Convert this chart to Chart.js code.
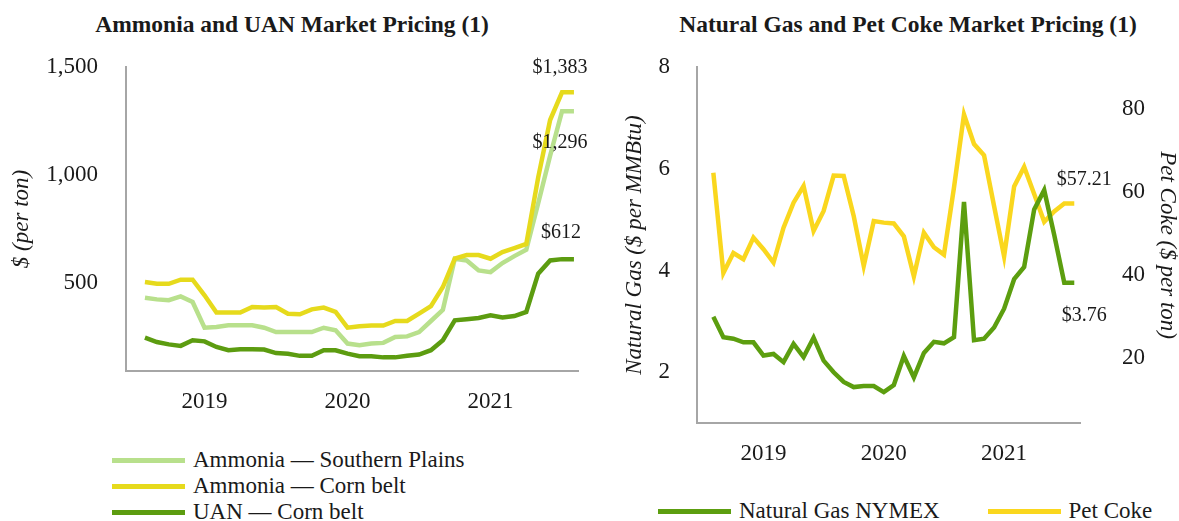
<!DOCTYPE html>
<html>
<head>
<meta charset="utf-8">
<script src="https://cdn.jsdelivr.net/npm/chart.js@4.4.1/dist/chart.umd.min.js"></script>
<style>
  body{margin:0;background:#fff;font-family:"Liberation Serif","Times New Roman",serif;color:#1a1a1a;}
  #wrap{position:relative;width:1179px;height:521px;overflow:hidden;}
  .title{position:absolute;top:11px;font-weight:bold;font-size:23.5px;text-align:center;white-space:nowrap;}
  .box{position:absolute;}
  .legend{position:absolute;font-size:23px;}
  .item{display:flex;align-items:center;height:26px;white-space:nowrap;}
  .swatch{display:inline-block;width:73px;height:5px;}
</style>
</head>
<body>
<div id="wrap">
  <div class="title" style="left:92px;width:400px">Ammonia and UAN Market Pricing (1)</div>
  <div class="title" style="left:678px;width:460px">Natural Gas and Pet Coke Market Pricing (1)</div>
  <div class="box" style="left:0;top:0;width:600px;height:430px"><canvas id="leftChart"></canvas></div>
  <div class="box" style="left:600px;top:0;width:579px;height:479px"><canvas id="rightChart"></canvas></div>
  <div class="legend" id="legLeft" style="left:112px;top:447px"></div>
  <div class="legend" id="legRight" style="left:658px;top:498px;display:flex"></div>
</div>
<script>
// monthly points, Aug 2018 - Aug 2021
const months = ['2018-08','2018-09','2018-10','2018-11','2018-12',
  '2019-01','2019-02','2019-03','2019-04','2019-05','2019-06','2019-07','2019-08','2019-09','2019-10','2019-11','2019-12',
  '2020-01','2020-02','2020-03','2020-04','2020-05','2020-06','2020-07','2020-08','2020-09','2020-10','2020-11','2020-12',
  '2021-01','2021-02','2021-03','2021-04','2021-05','2021-06','2021-07','2021-08'];

// $ per ton
const ammoniaSouthernPlains = [434,426,422,440,414,295,298,306,306,306,295,275,275,275,275,295,283,222,214,222,225,252,255,275,326,378,614,606,560,552,594,626,655,870,1090,1296,1296];
const ammoniaCornBelt = [506,498,498,517,517,445,365,365,365,391,388,391,360,357,380,388,368,295,302,305,305,326,326,360,395,483,614,631,631,614,645,663,682,990,1255,1383,1383];
const uanCornBelt = [249,229,218,211,237,232,206,191,195,195,194,178,175,165,165,191,191,175,163,163,158,158,165,171,191,237,329,334,340,352,342,349,368,545,606,612,612];

// $ per MMBtu and $ per ton
const naturalGas = [3.09,2.69,2.66,2.59,2.59,2.33,2.36,2.20,2.56,2.30,2.68,2.23,2.00,1.81,1.71,1.73,1.73,1.61,1.75,2.32,1.90,2.38,2.60,2.57,2.69,5.35,2.63,2.66,2.88,3.25,3.83,4.07,5.20,5.58,4.70,3.76,3.76];
const petCoke = [64.6,40.5,45.3,43.8,49.0,46.2,43.0,51.4,57.4,61.4,50.6,55.4,63.9,63.8,54.2,42.2,53.0,52.6,52.4,49.3,39.7,50.2,46.7,44.9,61.0,78.6,71.5,68.8,56.6,44.5,61.3,66.0,59.5,52.8,55.3,57.2,57.21];

const leftTicks = [500, 1000, 1500];
const gasTicks = [2, 4, 6, 8];
const cokeTicks = [20, 40, 60, 80];

const serif = '"Liberation Serif", "Times New Roman", serif';
const ink = '#1a1a1a';
const axisGray = '#a6a6a6';
const yearIdx = months.map((m, i) => m.endsWith('-01') ? i : -1).filter(i => i >= 0);
const pts = arr => arr.map((v, i) => ({x: i, y: v}));

const endLabels = {
  id: 'endLabels',
  afterDatasetsDraw(chart) {
    const ctx = chart.ctx;
    ctx.save();
    ctx.font = '20px ' + serif;
    ctx.fillStyle = ink;
    ctx.textAlign = 'center';
    ctx.textBaseline = 'middle';
    chart.data.datasets.forEach((ds, i) => {
      if (!ds.endLabel) return;
      const meta = chart.getDatasetMeta(i);
      const p = meta.data[meta.data.length - 1];
      const v = ds.data[ds.data.length - 1].y;
      ctx.fillText(ds.endLabel.fmt(v), p.x + ds.endLabel.dx, p.y + ds.endLabel.dy);
    });
    ctx.restore();
  }
};

function xAxis(min, max, h) {
  return {
    type: 'linear', min: min, max: max,
    grid: {display: false, drawTicks: false},
    border: {display: true, color: axisGray, width: 2},
    afterBuildTicks: s => { s.ticks = yearIdx.map(v => ({value: v})); },
    ticks: {callback: v => months[v] ? months[v].slice(0, 4) : '', font: {family: serif, size: 23}, color: ink, padding: 17, maxRotation: 0},
    afterFit: s => { s.height = h; }
  };
}

function yAxis(pos, min, max, ticks, w, pad, title, titlePad, showBorder) {
  return {
    type: 'linear', position: pos, min: min, max: max,
    grid: {display: false, drawTicks: false},
    border: {display: showBorder, color: axisGray, width: 2},
    afterBuildTicks: s => { s.ticks = ticks.map(v => ({value: v})); },
    ticks: {callback: v => v.toLocaleString('en-US'), font: {family: serif, size: 23}, color: ink, padding: pad},
    title: {display: true, text: title, color: ink, padding: titlePad, font: {family: serif, size: 23, style: 'italic', lineHeight: 1}},
    afterFit: s => { s.width = w; }
  };
}

const line = (label, data, color, extra) => Object.assign({
  label: label, data: pts(data), borderColor: color, backgroundColor: color,
  borderWidth: 4.5, pointRadius: 0, tension: 0, fill: false
}, extra);

const dollars = v => '$' + v.toLocaleString('en-US');
const dollars2 = v => '$' + v.toFixed(2);

const left = new Chart(document.getElementById('leftChart'), {
  type: 'line',
  data: {
    datasets: [
      line('Ammonia \u2014 Southern Plains', ammoniaSouthernPlains, '#b8e08c', {order: 1, endLabel: {fmt: dollars, dx: -14, dy: 32}}),
      line('Ammonia \u2014 Corn belt', ammoniaCornBelt, '#e6da1c', {order: 0, endLabel: {fmt: dollars, dx: -14, dy: -25}}),
      line('UAN \u2014 Corn belt', uanCornBelt, '#5c9c10', {order: 2, endLabel: {fmt: dollars, dx: -13, dy: -26}})
    ]
  },
  options: {
    responsive: true, maintainAspectRatio: false, animation: false,
    layout: {padding: {top: 67, right: 22, left: 0, bottom: 0}},
    plugins: {legend: {display: false}, tooltip: {enabled: false}},
    scales: {
      x: xAxis(-1.59, 36.34, 59),
      y: yAxis('left', 95, 1500, leftTicks, 126, 28, '$ (per ton)', 10, true)
    }
  },
  plugins: [endLabels]
});

// the right axis' tick padding also pads the chart area bottom, so the box is sized for it
const right = new Chart(document.getElementById('rightChart'), {
  type: 'line',
  data: {
    datasets: [
      line('Natural Gas NYMEX', naturalGas, '#5c9e0f', {yAxisID: 'y', endLabel: {fmt: dollars2, dx: 10, dy: 33}}),
      line('Pet Coke', petCoke, '#fad71e', {yAxisID: 'y2', endLabel: {fmt: dollars2, dx: 10, dy: -24}})
    ]
  },
  options: {
    responsive: true, maintainAspectRatio: false, animation: false,
    layout: {padding: {top: 67, right: 0, left: 0, bottom: 0}},
    plugins: {legend: {display: false}, tooltip: {enabled: false}},
    scales: {
      x: xAxis(-1.63, 36.57, 55),
      y: yAxis('left', 1, 8, gasTicks, 97, 27, 'Natural Gas ($ per MMBtu)', 23, true),
      y2: yAxis('right', 4.4, 90, cokeTicks, 99, 42, 'Pet Coke ($ per ton)', 0, false)
    }
  },
  plugins: [endLabels]
});

function buildLegend(chart, el, gap, spacing) {
  chart.data.datasets.forEach(ds => {
    const item = document.createElement('div');
    item.className = 'item';
    item.style.marginRight = spacing + 'px';
    const sw = document.createElement('span');
    sw.className = 'swatch';
    sw.style.background = ds.borderColor;
    sw.style.marginRight = gap + 'px';
    const tx = document.createElement('span');
    tx.textContent = ds.label;
    item.appendChild(sw);
    item.appendChild(tx);
    el.appendChild(item);
  });
}
buildLegend(left, document.getElementById('legLeft'), 8, 0);
buildLegend(right, document.getElementById('legRight'), 8, 48);
</script>
</body>
</html>
